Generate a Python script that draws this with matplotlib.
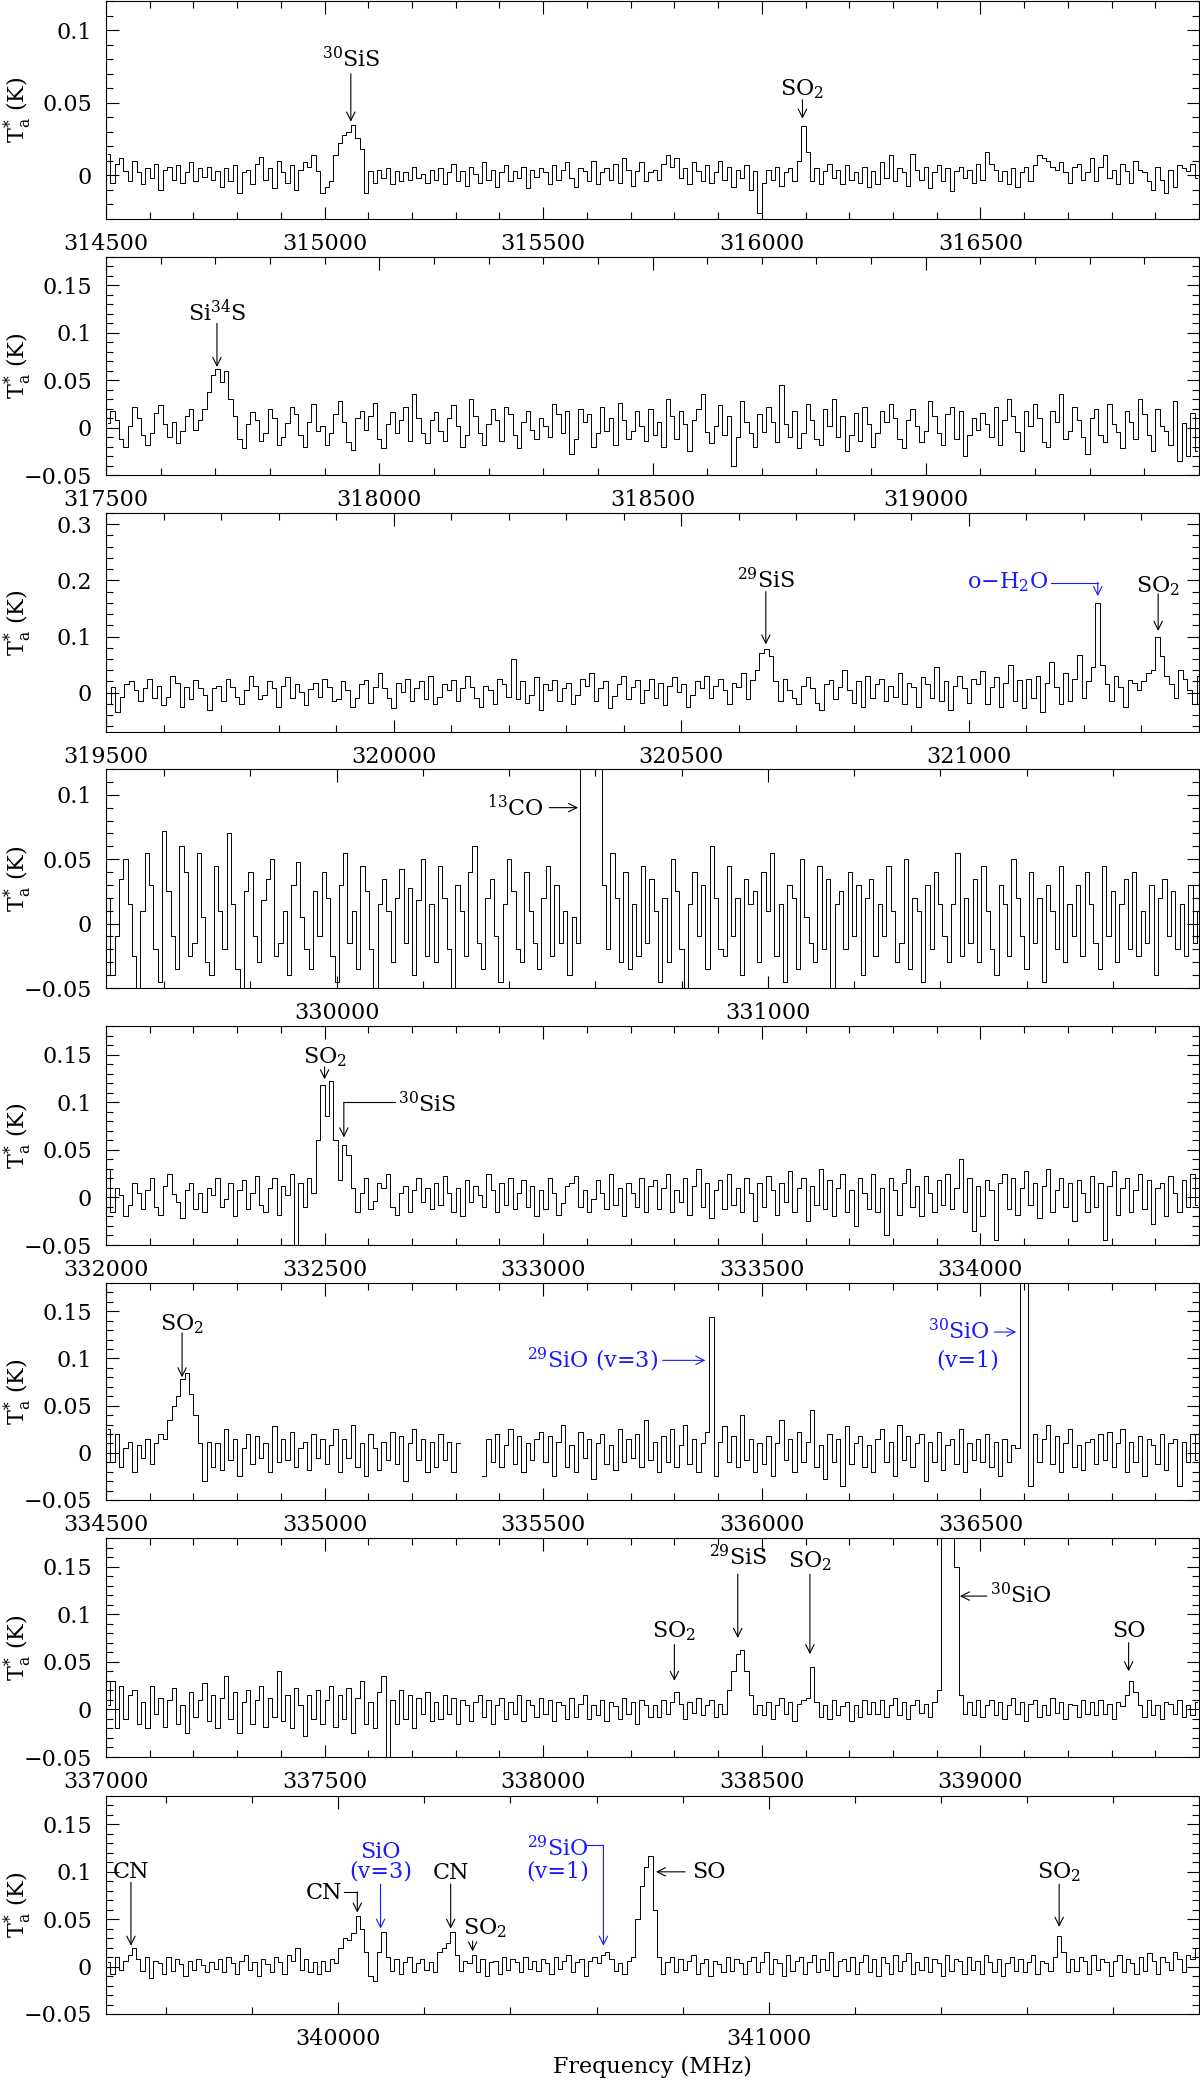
"""Eight stacked survey spectra (Ta* against frequency) with line identifications."""

import matplotlib

matplotlib.use("Agg")
import matplotlib.pyplot as plt
import numpy as np
from matplotlib.ticker import FuncFormatter, MultipleLocator

nan = float("nan")

# Spectra in mK.  Channel i is centred on start + step * (i + 0.5) MHz.
P1_START, P1_STEP = 314500, 10
P1_TA = [
    15, -5, 8, 12, 3, -4, 10, 2, -6, 5, -2, 8, -10, 4, 6, -3, 7, -5, 2, 9, -4, 5, -1, 6, -3,
    3, -8, 5, -4, 7, -12, 2, 4, -6, 8, 13, -3, 5, -9, 10, 2, -5, 7, -10, 4, 9, 6, 14, 3, -12,
    -8, -4, 14, 22, 28, 30, 35, 26, 18, -12, 3, -5, 4, -2, 5, -6, 3, -4, 2, -3, 6, -2, 1, -5, 4,
    -3, 5, -6, 2, 8, -4, 3, -7, 6, 1, -5, 9, -3, 4, -8, 2, 7, -4, 3, -2, 6, -9, 4, -1, 5,
    2, -6, 7, -3, 4, 9, -2, -8, 5, 3, -4, 10, -6, 2, 5, -3, 8, -5, 12, 4, -7, 3, 9, -4, 2,
    4, -3, 8, 14, 6, 12, -2, 5, -6, 9, 3, -4, 7, -5, 2, 10, -3, 6, -8, 4, -2, 7, -10, 3, -26,
    -5, 4, -3, 6, -7, 2, 5, -4, 10, 34, 16, -4, 5, -6, 3, 8, -2, 4, -6, 7, -3, 2, -5, 6, -8,
    3, -6, 9, -2, 14, -4, 5, 2, -7, 15, 4, -3, 6, -9, 2, 7, -4, 5, -11, 3, 6, -2, 4, -5, 8,
    -3, 16, 8, 4, -4, 3, -6, 5, -8, 2, 6, -4, 7, 14, 12, 10, 6, 4, 9, 2, -5, 6, 8, -3, 2,
    12, -4, 6, 14, -2, 4, -6, 8, 3, -5, 10, 4, 2, -4, -10, 6, -3, -12, 4, -8, 7, 5, 3, 8, -2,
]

P2_START, P2_STEP = 317500, 8
P2_TA = [
    5, 18, 8, -12, -20, 2, 22, 10, -8, -18, -6, 15, 24, 4, -10, 6, -16, -4, 12, 20, -2, 8, 20, 38, 55,
    62, 48, 60, 30, 12, -12, -22, 4, 16, 8, -14, -6, 20, 10, -18, -10, 5, 22, 14, -8, -20, 6, 25, -4, 2,
    -18, -6, 14, 28, 6, -15, -24, 10, 18, -2, 12, 26, -12, -22, 4, 16, -6, 8, 22, -14, 35, 10, -6, -16, 8,
    16, -4, -14, 10, 24, 2, -20, -8, 30, 12, -6, -18, 4, 20, 8, -14, 22, 14, -8, -22, 6, 18, -2, -12, 10,
    2, -10, 25, 14, -6, 18, -28, -12, 20, 6, 14, -20, -6, 22, -4, 10, -18, 26, 8, -12, -4, 18, 2, -14, 20,
    -8, 6, -20, 30, 12, -12, 18, 4, -25, 8, 20, 35, -5, -16, 2, 24, -8, 12, -40, -10, 28, 6, -6, -20, 14,
    -5, 22, 6, -15, 45, 4, -10, 18, -22, -6, 25, 8, -12, -18, 20, 2, 30, -10, 12, -25, -8, 15, -14, 22, 4,
    -20, -6, 18, 6, 25, 10, -12, -22, 8, 20, 2, -15, -4, 28, 12, -6, -18, 14, 22, -12, 18, -30, -8, 10, -2,
    15, 4, -10, 22, -18, 8, 30, 12, -5, -25, 18, 2, 25, 10, -15, -20, 18, 6, 35, -12, -4, 22, 8, -10, -28,
    10, 20, -8, -15, 25, 4, -5, -22, 18, 6, -12, 30, 14, -8, -25, 20, 2, -4, -18, 28, -35, 5, -30, 15, -25,
]

P3_START, P3_STEP = 319500, 8
P3_TA = [
    -20, 10, -35, -8, 15, 20, 5, -15, 8, 25, -10, 12, -22, -8, 30, 18, -25, 10, -12, 22, 8, -5, -30, 8, 12,
    -15, 25, 10, -8, -20, 5, 30, 12, -12, -5, 20, 8, -25, 12, 28, -10, 15, 2, -22, 6, 18, -8, 25, 10, -15,
    -12, 20, 5, -25, -10, 15, 22, -18, 10, 35, 8, -10, -28, 18, 2, 25, -15, 8, 20, -12, 30, -20, -8, 15, 4,
    22, -15, 8, 30, 10, -10, -25, 12, 5, -20, 25, 15, -8, 60, -12, 20, -18, -5, 28, -30, 15, 5, 22, -15, 8,
    18, -20, -5, 25, 12, 35, -15, 8, 20, -28, -6, 15, 30, -12, 10, 22, -18, 5, 25, -10, 18, -22, 12, 28, 2,
    15, -25, -5, 20, 8, 30, -10, 12, 25, 4, -20, 18, 10, 35, -12, 22, 40, 70, 78, 65, 20, -15, 25, 5, -10,
    -20, 12, 28, 8, -18, -30, 15, 22, -12, 10, 40, 5, -18, 20, -25, 30, -10, 15, 25, -15, 12, -8, 35, -20, 18,
    10, -25, 28, 15, -10, 45, -15, 20, -30, 12, 30, 8, -18, 25, 15, 38, -20, 10, 28, -25, 18, 50, -15, 22, -28,
    25, -10, 30, -35, 18, 55, 10, -20, 35, -15, 25, 68, -10, 20, 45, 160, 50, 15, -15, 30, 10, -25, 22, 18, 5,
    20, 35, 40, 100, 65, 30, 15, -10, 40, 25, 5, -20, 30, 15, -15, 25, 10, -10, 20, 5, -15, 25, 10, -5, 15,
]

P4_START, P4_STEP = 329465, 10
P4_TA = [
    20, -40, -10, 35, 50, 15, -25, -60, 10, 55, 30, -20, -45, 72, 25, -10, -35, 60, 40, -25, -15, 55, 5, -30, -40,
    45, 10, -20, 70, 15, -35, -50, 25, 40, -10, -30, 18, 35, 50, -25, -15, 10, -40, 30, 48, 5, -20, -35, 25, -10,
    40, 20, -25, -45, 30, 55, -15, 10, -35, 45, 25, -20, -50, 15, 35, 10, -30, 20, 42, -15, 28, -40, 18, 50, -25,
    15, -30, 45, 20, -20, -55, 30, 10, -25, 40, 60, -15, -35, 20, 35, -10, -45, 15, 50, 25, -20, -30, 40, 10, -15,
    -35, 20, 45, -25, 30, -15, 10, -40, 5, -15, 260, 400, 420, 380, 250, 30, -20, 55, 20, -30, 40, -35, 15, -25, 45,
    -15, 35, 10, -45, 20, -30, 50, 25, -20, -50, 15, 40, -10, 30, -35, 60, 20, -20, -25, 45, -10, 20, -40, 35, 15,
    25, -30, 40, 10, 55, -25, 15, -45, 30, 20, -35, 50, 5, -15, -30, 45, -20, 35, -55, 15, 25, -20, 40, -10, 30,
    -40, 20, 35, -25, 15, -10, 45, 10, -30, -15, 50, -35, 20, 10, -45, 30, -20, 40, 15, -10, -30, 15, 55, -25, 20,
    -15, 35, -30, 45, 10, -20, -40, 30, 15, -25, 50, 20, -10, -35, 40, -15, 20, -45, 30, 10, -20, 45, -30, 15, -10,
    30, -25, 40, 15, -15, -35, 45, -10, 25, -30, 15, 35, -20, 40, -25, 10, -15, 30, -40, 20, 35, -10, 25, -20, 15,
    -25, 30, -15, 10,
]

P5_START, P5_STEP = 332000, 10
P5_TA = [
    30, -15, 10, 2, -20, -8, 15, 5, -12, 8, 20, -10, -18, 12, 25, 4, -5, -22, 8, 15, -12, 5, -15, 10, 2,
    20, -10, -2, 15, -20, 8, 18, -12, 5, 22, -8, -15, 10, 20, -18, 12, 2, 25, -55, 15, -10, 20, 5, 60, 118,
    85, 122, 60, 18, 55, 45, 10, -15, 5, 20, -12, -4, 15, 10, 25, -10, -18, 5, 12, -15, 8, 20, -5, 10, -12,
    15, -8, 22, 5, -15, 10, -20, 18, -5, 12, 2, -10, 25, 8, -15, 15, -8, 20, -12, 5, 18, -10, 12, -20, 8,
    -12, 20, 5, -18, -6, 12, 15, 22, -10, 8, -15, -2, 18, 5, -12, 25, -8, 10, -20, 15, 5, -10, 20, -15, 12,
    18, -12, 10, 25, -15, 8, -5, 20, -18, 12, 30, -10, 15, -22, 8, 18, -12, 25, -8, 10, -15, 20, 5, -25, 15,
    -10, 22, 8, -18, 15, -5, 28, -15, 10, 20, -25, 12, -8, 30, -12, 18, -20, 10, 25, -15, 8, -30, 20, 5, -12,
    25, -15, 10, -40, 20, 8, -18, 15, 30, -10, 12, -20, 22, 5, -15, 18, -8, 25, -12, 10, 40, -15, 20, -35, 12,
    -20, 18, 8, -45, 15, 25, -12, 20, -18, 10, 28, -8, 15, -22, 12, 30, -15, 8, 20, -10, 15, -25, 18, 5, -15,
    22, -10, 15, -45, 12, 28, -18, 10, 20, -15, 8, 25, -12, 18, -28, 10, 15, -20, 22, 5, -15, 18, -10, 25, -8,
]

P6_START, P6_STEP = 334500, 10
P6_TA = [
    25, -10, 20, -15, 5, 12, -20, 8, -5, 15, -12, 10, 20, 15, 35, 50, 60, 78, 85, 62, 40, 10, -30, 12, -15,
    10, -18, 25, -8, 15, -25, 5, 20, -12, 18, -5, 10, -20, 28, -10, 15, -8, 22, -15, 5, 12, -18, 20, -6, 15,
    -12, 8, 25, -20, 15, -5, 30, -15, 10, -25, 20, 5, -18, 12, -8, 22, -12, 18, -30, 10, 25, -8, 15, -20, 12,
    -15, 20, -8, 12, -20, 10, nan, nan, nan, nan, nan, -25, 15, -10, 20, -15, 8, 25, -12, 18, -20, 10, -8, 15, 22,
    -10, 18, -25, 12, 30, -15, 8, -20, 22, -5, 15, -28, 10, 20, -12, 8, -18, 25, -10, 15, -5, 20, -15, 35, -8,
    12, -20, 18, -10, 25, -15, 8, 30, -12, 15, -20, 10, 22, 144, -25, 12, 28, -10, 18, -15, 40, -8, 15, -20, 10,
    -12, 18, -25, 10, 35, -8, 15, -20, 22, -10, 12, 45, -15, 8, -28, 20, -10, 15, -35, 28, -12, 10, 18, -15, 8,
    -20, 15, 25, -10, 12, -25, 30, -8, 18, -15, 10, 20, -30, 12, -10, 22, -18, 8, 15, -12, 25, -20, 10, -8, 15,
    -10, 20, -15, 12, -25, 15, -10, 8, 5, 300, 250, -35, 20, -10, 15, 30, -12, 18, -20, 10, 25, -15, 8, -18, 12,
    15, -12, 20, -8, 22, -15, 10, 25, -20, 12, -10, 18, -25, 15, 8, -12, 20, -18, 10, 15, -35, 12, -10, 20, -8,
]

P7_START, P7_STEP = 337000, 10
P7_TA = [
    5, 30, -20, 25, -10, 15, 20, -15, 8, -20, 25, -5, 12, -18, 10, 22, -15, 5, -25, 18, -8, 10, 28, -12, 15,
    -20, 12, 35, -10, 18, -25, 8, 20, -15, 10, 25, -18, 12, -8, 40, -12, 15, -20, 22, 5, -28, 15, -10, 20, -15,
    10, 25, -18, 15, -10, 22, -25, 12, 30, -15, 8, -20, 18, 35, -55, 10, -15, 20, -10, 15, -20, 12, -5, 18, -12,
    8, -10, 15, -5, 12, -15, 10, 5, -12, 8, 15, -8, 10, -15, 5, 12, -10, 8, -5, 15, -12, 10, 5, -8, 12,
    -5, 10, -12, 8, 5, -10, 12, -8, 6, 15, -10, 5, -6, 10, -12, 8, 4, -10, 12, -5, 8, -15, 10, 5, -8,
    5, -8, 10, -5, 8, 18, 6, -10, 8, -4, 12, -6, 5, 10, -8, 6, -5, 20, 40, 58, 62, 40, 15, -5, 5,
    -6, 8, -10, 5, 12, -5, 8, -12, 6, 10, 12, 45, 8, -8, 5, -10, 10, -6, 4, 8, -12, 5, -8, 10, -5,
    8, -5, 10, -8, 5, 12, -6, 8, -10, 5, 10, -4, 6, -8, 8, 20, 200, 350, 300, 150, 15, -5, 8, -6, 10,
    -8, 5, 10, -6, 8, -10, 5, 12, -5, 8, -12, 6, 10, -8, 5, -6, 12, -4, 8, -10, 6, 5, -8, 10, -5,
    8, -6, 10, -5, 6, -10, 8, 4, 15, 30, 18, 5, -8, 10, -6, 5, -10, 8, 6, -5, 10, -8, 5, -6, 8,
]

P8_START, P8_STEP = 339460, 10
P8_TA = [
    5, -8, 10, -4, 6, 12, 20, 8, -5, 10, -12, 6, 4, -8, 10, -5, 8, 3, -10, 6, -4, 8, 2, -6, 5,
    -3, 8, -6, 10, 4, -8, 6, 12, -4, 5, -10, 8, 3, -6, 10, 5, -8, 12, 6, 20, -4, 8, -6, 5, -8,
    6, -5, 8, 4, 20, 30, 28, 35, 53, 40, 15, -10, -15, 15, 36, 10, -5, 8, -8, 5, 10, -6, 4, 8, -4,
    5, -6, 15, 20, 25, 37, 12, -5, 6, 4, 12, -6, 8, -10, 5, 6, -8, 10, -4, 8, 5, -6, 10, -3, 6,
    -5, 8, 4, -8, 10, -3, 6, 12, -6, 5, 8, -10, 6, 10, 4, 12, 15, 8, -5, 4, -8, 6, 10, 50, 85,
    105, 117, 60, 10, -8, 5, 10, -6, 8, -4, 6, 12, -8, 4, 8, -10, 6, 3, -6, 10, -5, 8, 4, -8, 6,
    10, -6, 5, 15, -8, 8, 4, -10, 12, -5, 6, 10, -8, 5, 12, -6, 8, -4, 15, -10, 6, 8, -5, 10, -8,
    5, 12, -6, 8, -10, 10, 4, -8, 12, -5, 6, 14, -8, 5, -4, 10, -6, 8, 4, -10, 12, -5, 8, 6, -8,
    10, -4, 6, -8, 12, 5, -6, 8, -10, 4, 10, -5, 8, -6, 5, 12, -8, 6, 4, -5, 10, 32, 15, -6, 8,
    -5, 10, 6, -8, 12, -4, 8, 5, -10, 6, 12, -6, 8, 4, -8, 10, -5, 14, 6, -8, 10, 5, -4, 15, 8,
    -6, 12, 8, 20,
]

# Frequency ranges (MHz), labelled ticks and y ranges (K) of the eight panels
P_XLIM = [
    (314500, 317000), (317500, 319500), (319500, 321400), (329465, 332000),
    (332000, 334500), (334500, 337000), (337000, 339500), (339460, 342000),
]
P_XTICKS = [
    [314500, 315000, 315500, 316000, 316500],
    [317500, 318000, 318500, 319000],
    [319500, 320000, 320500, 321000],
    [330000, 331000],
    [332000, 332500, 333000, 333500, 334000],
    [334500, 335000, 335500, 336000, 336500],
    [337000, 337500, 338000, 338500, 339000],
    [340000, 341000],
]
P_XMINOR = [100, 100, 100, 200, 100, 100, 100, 200]
P_YLIM = [
    (-0.03, 0.12), (-0.05, 0.18), (-0.07, 0.32), (-0.05, 0.12),
    (-0.05, 0.18), (-0.05, 0.18), (-0.05, 0.18), (-0.05, 0.18),
]
P_YTICKS = [
    [0, 0.05, 0.1],
    [-0.05, 0, 0.05, 0.1, 0.15],
    [0, 0.1, 0.2, 0.3],
    [-0.05, 0, 0.05, 0.1],
    [-0.05, 0, 0.05, 0.1, 0.15],
    [-0.05, 0, 0.05, 0.1, 0.15],
    [-0.05, 0, 0.05, 0.1, 0.15],
    [-0.05, 0, 0.05, 0.1, 0.15],
]
P_YMINOR = [0.01, 0.01, 0.02, 0.01, 0.01, 0.01, 0.01, 0.01]

SPECTRA = [
    (P1_START, P1_STEP, P1_TA), (P2_START, P2_STEP, P2_TA),
    (P3_START, P3_STEP, P3_TA), (P4_START, P4_STEP, P4_TA),
    (P5_START, P5_STEP, P5_TA), (P6_START, P6_STEP, P6_TA),
    (P7_START, P7_STEP, P7_TA), (P8_START, P8_STEP, P8_TA),
]

# layout in pixels of the 1200 x 2085 output
FIG_W, FIG_H = 1200, 2085
AX_LEFT, AX_RIGHT = 106, 1199
PANEL_TOP = [1, 257, 513, 769, 1026, 1283, 1538, 1796]
PANEL_BOTTOM = [219, 475, 732, 988, 1245, 1500, 1757, 2014]

FS = 16
BLUE = "#1a1aff"


def fmt_y(value, _pos):
    """Plain tick numbers with a real minus sign."""
    return ("%g" % round(value, 3)).replace("-", "\u2212")


def arrow(ax, start, end, color="black"):
    ax.annotate(
        "", xy=end, xytext=start,
        arrowprops=dict(arrowstyle="->", color=color, lw=0.8,
                        mutation_scale=15, shrinkA=0, shrinkB=0),
    )


def label_down(ax, text, x, y_text, y_from, y_to, color="black"):
    """Label above a line with a vertical arrow pointing down onto it."""
    ax.text(x, y_text, text, ha="center", va="center", fontsize=FS, color=color)
    arrow(ax, (x, y_from), (x, y_to), color)


def label_side(ax, text, x_text, y, x_from, x_to, ha, color="black"):
    """Label beside a line with a horizontal arrow."""
    ax.text(x_text, y, text, ha=ha, va="center", fontsize=FS, color=color)
    arrow(ax, (x_from, y), (x_to, y), color)


def label_hook(ax, text, x_text, y_text, ha, x_start, x_corner, y_line, y_to, color="black"):
    """Label joined to its line by a horizontal run and a downward arrow."""
    ax.text(x_text, y_text, text, ha=ha, va="center", fontsize=FS, color=color)
    ax.plot([x_start, x_corner], [y_line, y_line], color=color, lw=0.8)
    arrow(ax, (x_corner, y_line), (x_corner, y_to), color)


def style_axis(ax, k):
    ax.set_xlim(*P_XLIM[k])
    ax.set_ylim(*P_YLIM[k])
    ax.set_xticks(P_XTICKS[k])
    ax.set_xticklabels([str(t) for t in P_XTICKS[k]])
    ax.xaxis.set_minor_locator(MultipleLocator(P_XMINOR[k]))
    ax.set_yticks(P_YTICKS[k])
    ax.yaxis.set_major_formatter(FuncFormatter(fmt_y))
    ax.yaxis.set_minor_locator(MultipleLocator(P_YMINOR[k]))
    ax.tick_params(which="both", direction="in", top=True, right=True, width=0.8)
    ax.tick_params(which="major", length=9, pad=10, labelsize=FS)
    ax.tick_params(which="minor", length=5)
    for spine in ax.spines.values():
        spine.set_linewidth(0.8)
    ax.set_ylabel(r"T$_{\rm a}^{*}$ (K)", fontsize=FS)
    ax.yaxis.set_label_coords(-0.066, 0.5)


def annotate_panels(axes):
    a1, a2, a3, a4, a5, a6, a7, a8 = axes

    label_down(a1, r"$^{30}$SiS", 315060, 0.080, 0.070, 0.037)
    label_down(a1, r"SO$_2$", 316093, 0.059, 0.052, 0.039)

    label_down(a2, r"Si$^{34}$S", 317703, 0.121, 0.110, 0.064)

    label_down(a3, r"$^{29}$SiS", 320647, 0.200, 0.180, 0.086)
    label_hook(a3, r"o$-$H$_2$O", 321137, 0.196, "right", 321142, 321224, 0.196, 0.172, BLUE)
    label_down(a3, r"SO$_2$", 321329, 0.190, 0.176, 0.110)

    label_side(a4, r"$^{13}$CO", 330481, 0.090, 330493, 330560, "right")

    label_down(a5, r"SO$_2$", 332500, 0.147, 0.137, 0.124)
    label_hook(a5, r"$^{30}$SiS", 332668, 0.097, "left", 332661, 332544, 0.100, 0.063)

    label_down(a6, r"SO$_2$", 334674, 0.136, 0.127, 0.080)
    label_side(a6, r"$^{29}$SiO (v=3)", 335762, 0.098, 335773, 335871, "right", BLUE)
    label_side(a6, r"$^{30}$SiO", 336523, 0.128, 336532, 336582, "right", BLUE)
    a6.text(336470, 0.098, "(v=1)", ha="center", va="center", fontsize=FS, color=BLUE)

    label_down(a7, r"SO$_2$", 338300, 0.082, 0.068, 0.030)
    label_down(a7, r"$^{29}$SiS", 338445, 0.159, 0.142, 0.075)
    label_down(a7, r"SO$_2$", 338610, 0.156, 0.142, 0.058)
    label_side(a7, r"$^{30}$SiO", 339021, 0.119, 339015, 338953, "left")
    label_down(a7, "SO", 339339, 0.082, 0.070, 0.040)

    label_down(a8, "CN", 339518, 0.100, 0.089, 0.022)
    label_hook(a8, "CN", 340008, 0.078, "right", 340012, 340044, 0.079, 0.057)
    a8.text(340098, 0.121, "SiO", ha="center", va="center", fontsize=FS, color=BLUE)
    label_down(a8, "(v=3)", 340098, 0.100, 0.087, 0.040, BLUE)
    label_down(a8, "CN", 340261, 0.099, 0.087, 0.040)
    a8.text(340340, 0.040, r"SO$_2$", ha="center", va="center", fontsize=FS)
    arrow(a8, (340312, 0.027), (340312, 0.016))
    a8.text(340510, 0.124, r"$^{29}$SiO", ha="center", va="center", fontsize=FS, color=BLUE)
    a8.text(340510, 0.100, "(v=1)", ha="center", va="center", fontsize=FS, color=BLUE)
    a8.plot([340578, 340616], [0.128, 0.128], color=BLUE, lw=0.8)
    arrow(a8, (340616, 0.128), (340616, 0.022), BLUE)
    label_side(a8, "SO", 340822, 0.100, 340806, 340738, "left")
    label_down(a8, r"SO$_2$", 341675, 0.100, 0.087, 0.042)


def main():
    plt.rcParams["font.family"] = ["DejaVu Serif"]
    plt.rcParams["mathtext.fontset"] = "dejavuserif"

    fig = plt.figure(figsize=(FIG_W / 100, FIG_H / 100), dpi=100)
    axes = []
    for k, (start, step, ta) in enumerate(SPECTRA):
        top, bottom = PANEL_TOP[k], PANEL_BOTTOM[k]
        ax = fig.add_axes([
            AX_LEFT / FIG_W, 1 - bottom / FIG_H,
            (AX_RIGHT - AX_LEFT) / FIG_W, (bottom - top) / FIG_H,
        ])
        freq = start + step * (np.arange(len(ta)) + 0.5)
        ax.plot(freq, np.asarray(ta, dtype=float) / 1000.0,
                drawstyle="steps-mid", color="black", lw=0.7)
        style_axis(ax, k)
        axes.append(ax)

    annotate_panels(axes)
    axes[-1].set_xlabel("Frequency (MHz)", fontsize=FS, labelpad=4)

    fig.savefig("out.png", dpi=100)


if __name__ == "__main__":
    main()
